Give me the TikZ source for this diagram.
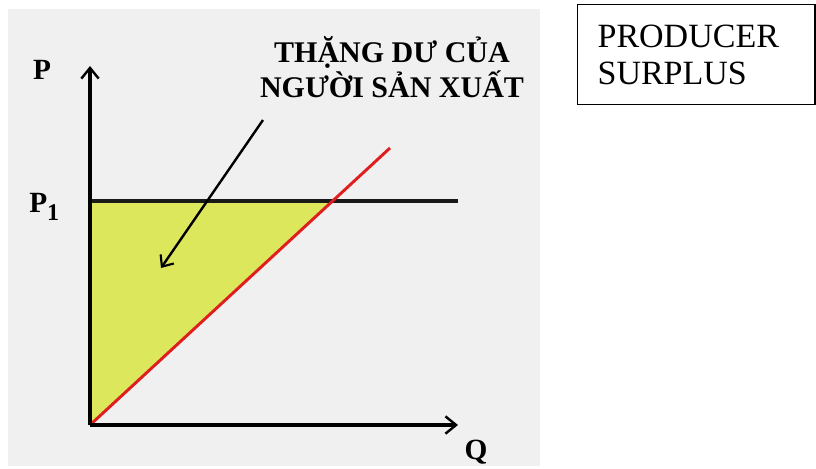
\documentclass[tikz,border=0pt]{standalone}
\usepackage{fontspec}
\setmainfont{Liberation Serif}
\usetikzlibrary{arrows.meta,positioning}
\definecolor{panelgray}{RGB}{240,240,240}
\definecolor{surplusfill}{RGB}{220,231,92}
\definecolor{supplyred}{RGB}{225,30,30}

\begin{document}
\begin{tikzpicture}[x=0.75pt, y=-0.75pt, >={Straight Barb[length=8pt,width=13pt,line width=1.8pt]},
  axis/.style={line width=2.6pt, ->},
  axlabel/.style={font=\bfseries\fontsize{22}{24}\selectfont, inner sep=0pt}]
  \useasboundingbox (0,0) rectangle (816,468);
  % ---------------------------------------------------------------- panel
  \fill[panelgray] (8,9) rectangle (540,466);
  \coordinate (O) at (90,425);
  \coordinate (Ptop) at (90,66);
  \coordinate (Qend) at (458,425);
  \coordinate (P1left) at (90,201);
  \coordinate (P1right) at (458,201);
  \coordinate (eq) at (333,201);
  \coordinate (Send) at (390,148);
  % surplus triangle
  \fill[surplusfill] (P1left) -- (eq) -- (O) -- cycle;
  \draw[line width=3.4pt, black!90] (P1left) -- (P1right);
  \draw[line width=2.2pt, supplyred] (O) -- (Send);
  \draw[axis] (O) -- (Ptop);
  \draw[axis] (O) -- (Qend);
  % ---------------------------------------------------------------- labels
  \node[axlabel] (labP) at (42,70) {P};
  \node[axlabel, anchor=base west] (labP1) at (29,212) {P\raisebox{-6pt}{\fontsize{18}{20}\selectfont 1}};
  \node[axlabel] (labQ) at (476,452) {Q};
  \node[font=\bfseries\fontsize{22.5}{26}\selectfont, align=center, inner sep=0pt] (lab) at (392,67)
    {THẶNG DƯ CỦA\\NGƯỜI SẢN XUẤT};
  \coordinate (tail) at (263,120);
  \coordinate (head) at (161,268);
  \draw[->, line width=1.8pt, >={Straight Barb[length=7pt,width=12pt,line width=1.6pt]}] (tail) -- (head);
  % ---------------------------------------------------------------- box
  \node[draw, line width=0.9pt, anchor=north west, inner ysep=0pt, inner xsep=15pt,
        font=\fontsize{25.5}{28}\selectfont, align=left, text width=148pt,
        minimum height=75pt] (box) at (577,4) {PRODUCER\\SURPLUS};
\end{tikzpicture}
\end{document}
